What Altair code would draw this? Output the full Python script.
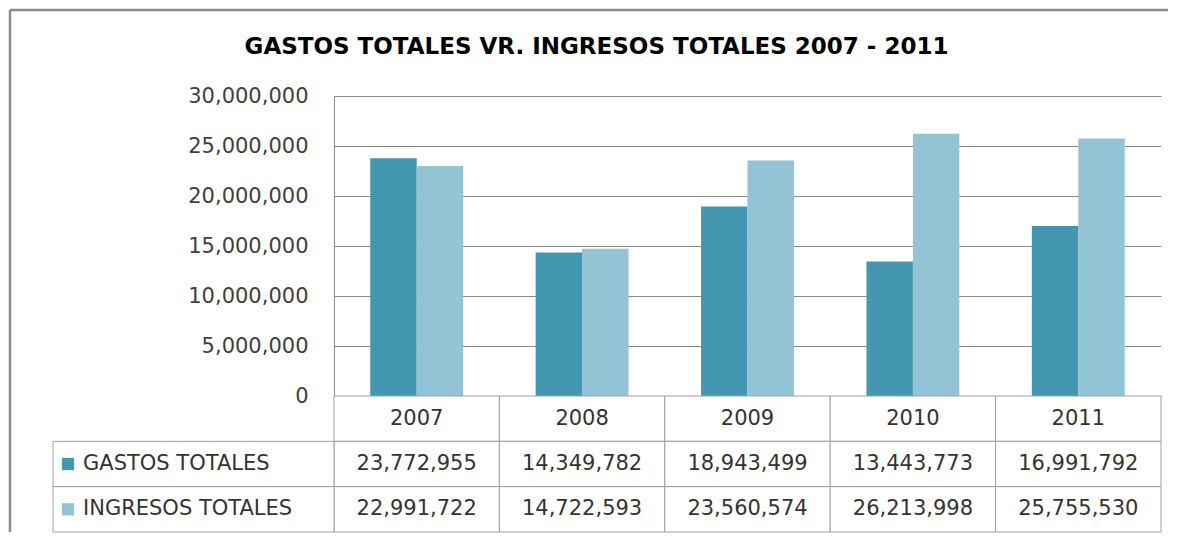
import altair as alt
import pandas as pd

# ---- data ----
years = ["2007", "2008", "2009", "2010", "2011"]
series = ["GASTOS TOTALES", "INGRESOS TOTALES"]
gastos = [23772955, 14349782, 18943499, 13443773, 16991792]
ingresos = [22991722, 14722593, 23560574, 26213998, 25755530]
y_ticks = [0, 5000000, 10000000, 15000000, 20000000, 25000000, 30000000]
title_text = "GASTOS TOTALES VR. INGRESOS TOTALES 2007 - 2011"
header_key = " "

# ---- style ----
DARK = "#4397b0"
LIGHT = "#93c4d6"
FONT = "DejaVu Sans"
LINE = "#a0a0a0"
TXT = "#333333"
PW = 827          # plot width
BAR_H = 300       # bar area height
TABLE_H = 136     # data table height
H = BAR_H + TABLE_H
LABEL_COL = 281   # width of label column left of plot

bars_df = pd.DataFrame({
    "year": years * 2,
    "series": [series[0]] * len(years) + [series[1]] * len(years),
    "value": gastos + ingresos,
})

cells = []
for i, yr in enumerate(years):
    cells.append({"year": yr, "row": header_key, "text": yr})
    cells.append({"year": yr, "row": series[0], "text": f"{gastos[i]:,}"})
    cells.append({"year": yr, "row": series[1], "text": f"{ingresos[i]:,}"})
cells_df = pd.DataFrame(cells)
labels_df = pd.DataFrame({"row": series, "series": series})
frame_df = pd.DataFrame({"k": [0]})

rows = [header_key] + series
x_scale = alt.Scale(domain=years, paddingInner=0, paddingOuter=0)
row_scale = alt.Scale(type="band", domain=rows, range=[BAR_H, H], paddingInner=0, paddingOuter=0)
color_scale = alt.Scale(domain=series, range=[DARK, LIGHT])

bars = alt.Chart(bars_df).mark_bar().encode(
    x=alt.X("year:N", scale=x_scale, axis=None),
    xOffset=alt.XOffset("series:N", scale=alt.Scale(domain=series, paddingInner=0, paddingOuter=0.78)),
    y=alt.Y("value:Q", scale=alt.Scale(domain=[0, 30000000], range=[BAR_H, 0]),
            axis=alt.Axis(values=y_ticks, format=",d", title=None, ticks=False, labelPadding=26,
                          labelFont=FONT, labelFontSize=21, labelColor="#404040",
                          domainColor="#8c8c8c", gridColor="#8c8c8c", grid=True)),
    color=alt.Color("series:N", scale=color_scale, legend=None),
)

cell_rect = alt.Chart(cells_df).mark_rect(fill="white", stroke=LINE, strokeWidth=1).encode(
    x=alt.X("year:N", scale=x_scale, axis=None),
    y=alt.Y("row:N", scale=row_scale, axis=None),
)
cell_text = alt.Chart(cells_df).mark_text(font=FONT, fontSize=21, color=TXT, baseline="middle").encode(
    x=alt.X("year:N", scale=x_scale, axis=None),
    y=alt.Y("row:N", scale=row_scale, axis=None),
    text="text:N",
)
label_rect = alt.Chart(labels_df).mark_rect(fill="white", stroke=LINE, strokeWidth=1).encode(
    x=alt.value(-LABEL_COL), x2=alt.value(0),
    y=alt.Y("row:N", scale=row_scale, axis=None),
)
label_sq = alt.Chart(labels_df).mark_square(size=150, opacity=1).encode(
    x=alt.value(-266),
    y=alt.Y("row:N", scale=row_scale, axis=None),
    color=alt.Color("series:N", scale=color_scale, legend=None),
)
label_text = alt.Chart(labels_df).mark_text(font=FONT, fontSize=21, color=TXT, align="left", baseline="middle").encode(
    x=alt.value(-251),
    y=alt.Y("row:N", scale=row_scale, axis=None),
    text="row:N",
)
frame_top = alt.Chart(frame_df).mark_rule(color="#8c8c8c", strokeWidth=2.5).encode(
    x=alt.value(-324), x2=alt.value(834), y=alt.value(-86))
frame_left = alt.Chart(frame_df).mark_rule(color="#8c8c8c", strokeWidth=2.5).encode(
    x=alt.value(-324), y=alt.value(-86), y2=alt.value(H))

chart = alt.layer(
    frame_top, frame_left, bars, cell_rect, cell_text, label_rect, label_sq, label_text
).resolve_scale(y="independent").properties(
    width=PW, height=H, padding=0,
    title=alt.TitleParams(title_text, font=FONT, fontSize=23, fontWeight="bold", color="black",
                          anchor="middle", frame="group", dx=-151, offset=-50),
).configure_view(stroke=None)

chart.save("out.html", embed_options={"renderer": "svg", "actions": False})
